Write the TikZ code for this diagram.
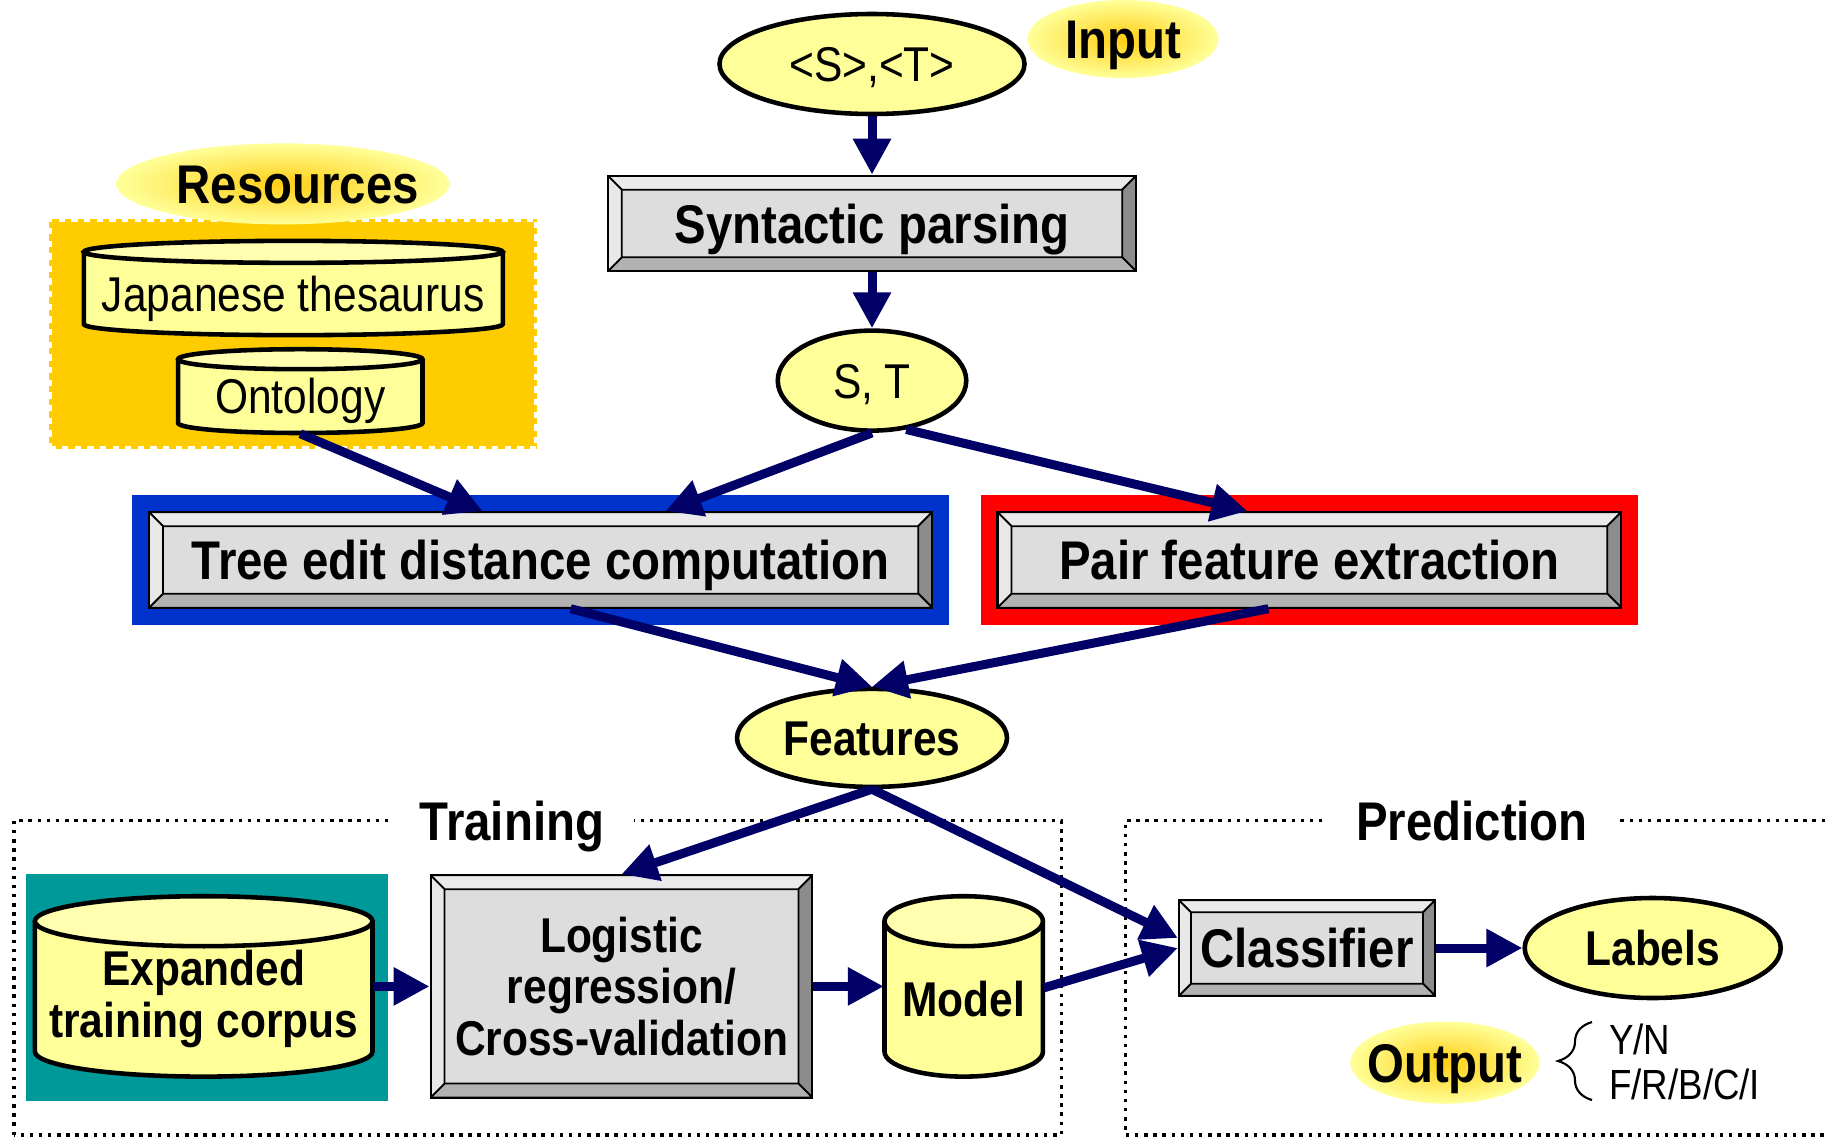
\documentclass[tikz,border=0pt]{standalone}
\usepackage{fontspec}
\setmainfont{Liberation Sans}[FakeStretch=0.87]
\usetikzlibrary{shapes.geometric,arrows.meta,decorations.pathreplacing}

\definecolor{navy}{RGB}{0,0,102}
\definecolor{paleyel}{RGB}{255,255,153}
\definecolor{drumtop}{RGB}{255,255,175}
\definecolor{resgold}{RGB}{255,204,0}
\definecolor{glowcore}{RGB}{255,206,20}
\definecolor{tblue}{RGB}{0,51,204}
\definecolor{tteal}{RGB}{0,153,153}
\definecolor{facegrey}{RGB}{221,221,221}
\definecolor{bevtop}{RGB}{234,234,234}
\definecolor{bevleft}{RGB}{232,232,232}
\definecolor{bevright}{RGB}{140,140,140}
\definecolor{bevbottom}{RGB}{178,178,178}

\newcommand\bigbf{\fontsize{15.5}{16}\selectfont\bfseries}
\newcommand\midbf{\fontsize{13.9}{14.6}\selectfont\bfseries}
\newcommand\midrm{\fontsize{13.9}{15}\selectfont}
\newcommand\smallrm{\fontsize{12}{12.8}\selectfont}

\newcommand\bevels[1]{%
  \path (path picture bounding box.north west) coordinate (o1)
        (path picture bounding box.north east) coordinate (o2)
        (path picture bounding box.south east) coordinate (o3)
        (path picture bounding box.south west) coordinate (o4);
  \path ([shift={(#1,-#1)}]o1) coordinate (i1)
        ([shift={(-#1,-#1)}]o2) coordinate (i2)
        ([shift={(-#1,#1)}]o3) coordinate (i3)
        ([shift={(#1,#1)}]o4) coordinate (i4);
  \filldraw[fill=bevtop, line width=0.5pt] (o1) -- (o2) -- (i2) -- (i1) -- cycle;
  \filldraw[fill=bevright, line width=0.5pt] (o2) -- (o3) -- (i3) -- (i2) -- cycle;
  \filldraw[fill=bevbottom, line width=0.5pt] (o3) -- (o4) -- (i4) -- (i3) -- cycle;
  \filldraw[fill=bevleft, line width=0.5pt] (o4) -- (o1) -- (i1) -- (i4) -- cycle;
}

\newcommand\drum[8]{%
  \fill[paleyel] (#2-#4,#3+#5-#6) -- (#2-#4,#3-#5+#6)
    arc[start angle=180, end angle=360, x radius=#4, y radius=#6]
    -- (#2+#4,#3+#5-#6)
    arc[start angle=0, end angle=180, x radius=#4, y radius=#6] -- cycle;
  \draw[line width=1.3pt] (#2-#4,#3+#5-#6) -- (#2-#4,#3-#5+#6)
    arc[start angle=180, end angle=360, x radius=#4, y radius=#6]
    -- (#2+#4,#3+#5-#6);
  \draw[line width=1.3pt, fill=drumtop] (#2,#3+#5-#6) ellipse[x radius=#4, y radius=#6];
  \node[inner sep=0pt, align=center, minimum width={2*#4cm}, minimum height={2*#5cm-#6cm}, #7] (#1) at (#2,#3-#6/2) {#8};
}

\begin{document}
\begin{tikzpicture}[
    flow/.style={draw=navy, line width=0.09cm, -{Triangle[width=0.36cm,length=0.36cm]}},
    bigtext/.style={font=\bigbf, text height=11.1pt, text depth=0pt},
    midtext/.style={font=\midbf, text height=10pt, text depth=0pt},
    rmtext/.style={font=\midrm, text height=10pt, text depth=0pt},
    bubble/.style={ellipse, draw=black, line width=1.3pt, fill=paleyel, inner sep=0pt},
    glow/.style={ellipse, inner color=glowcore, outer color=paleyel, inner sep=0pt, inner xsep=-0.3cm, bigtext},
    button/.style={rectangle, draw=black, line width=0.6pt, fill=facegrey, inner sep=0pt, path picture={\bevels{#1}}},
    button/.default=0.14cm,
    framed/.style={preaction={draw=#1, line width=0.34cm}},
    frame/.style={line width=1pt, dash pattern=on 1pt off 1.6pt},
    framelabel/.style={fill=white, inner xsep=0.3cm, inner ysep=1pt, bigtext}
  ]
  \useasboundingbox (0,0) rectangle (18.25,11.39);

  \draw[frame] (0.14,0.04) rectangle (10.615,3.185);
  \draw[frame] (18.25,3.185) -- (11.255,3.185) -- (11.255,0.04) -- (18.25,0.04);
  \node[framelabel] (train) at (5.12, 3.185) {Training};
  \node[framelabel] (pred) at (14.72, 3.185) {Prediction};

  \fill[resgold] (0.489,6.897) rectangle (5.366,9.202);
  \draw[white, line width=1.6pt, dash pattern=on 1.8pt off 1.8pt] (0.489,6.897) rectangle (5.366,9.202);
  \fill[tteal] (0.256,0.38) rectangle (3.876,2.649);

  \node[glow, minimum width=3.33cm, minimum height=0.81cm] (res) at (2.828, 9.551) {\hspace*{0.3cm}Resources};
  \node[glow, minimum width=1.91cm, minimum height=0.78cm] (inlab) at (11.23, 11.0) {Input};
  \node[glow, minimum width=1.89cm, minimum height=0.82cm] (outlab) at (14.45, 0.764) {Output};

  \drum{thes}{2.933}{8.51}{2.095}{0.4715}{0.11}{rmtext}{Japanese thesaurus}
  \drum{onto}{3.003}{7.479}{1.222}{0.419}{0.10}{rmtext}{Ontology}
  \drum{corpus}{2.037}{1.526}{1.688}{0.902}{0.25}{font=\midbf}{Expanded\\training corpus}
  \drum{model}{9.637}{1.526}{0.792}{0.902}{0.25}{midtext}{Model}

  \node[bubble, minimum width=3.05cm, minimum height=1.0cm, rmtext] (in) at (8.72, 10.75) {<S>,<T>};
  \node[button, minimum width=5.284cm, minimum height=0.955cm, bigtext] (parse) at (8.72, 9.155) {Syntactic parsing};
  \node[bubble, minimum width=1.885cm, minimum height=1.0cm, rmtext] (st) at (8.72, 7.584) {S, T};
  \node[button, framed=tblue, minimum width=7.833cm, minimum height=0.955cm, bigtext] (tree) at (5.406, 5.791) {Tree edit distance computation};
  \node[button, framed=red, minimum width=6.238cm, minimum height=0.955cm, bigtext] (pair) at (13.094, 5.791) {Pair feature extraction};
  \node[bubble, minimum width=2.70cm, minimum height=0.98cm, midtext] (feat) at (8.72, 4.011) {Features};
  \node[button, minimum width=3.818cm, minimum height=2.223cm, font=\midbf, align=center] (logi) at (6.215, 1.526) {Logistic\\regression/\\Cross-validation};
  \node[button=0.12cm, minimum width=2.561cm, minimum height=0.954cm, bigtext] (cls) at (13.07, 1.91) {Classifier};
  \node[bubble, minimum width=2.56cm, minimum height=1.0cm, midtext] (lab) at (16.527, 1.91) {Labels};

  \draw[line width=0.6pt, decorate, decoration={brace, amplitude=0.34cm}] (15.92,0.39) -- (15.92,1.17);
  \node[anchor=west, align=left, inner sep=0pt, font=\smallrm] (codes) at (16.085, 0.77) {Y/N\\F/R/B/C/I};

  \draw[flow] (in) -- (parse);
  \draw[flow] (parse) -- (st);
  \draw[flow] (onto.south) -- ([xshift=-0.58cm]tree.north);
  \draw[flow] (st.south) -- ([xshift=1.25cm]tree.north);
  \draw[flow] (st.-55) -- ([xshift=-0.62cm]pair.north);
  \draw[flow] ([xshift=0.30cm]tree.south) -- (feat.north);
  \draw[flow] ([xshift=-0.41cm]pair.south) -- (feat.north);
  \draw[flow] (feat.south) -- (logi.north);
  \draw[flow] (feat.south) -- ([yshift=0.1cm]cls.west);
  \draw[flow] (corpus.east |- logi) -- (logi);
  \draw[flow] (logi) -- (logi -| model.west);
  \draw[flow] ([yshift=0.11cm]model.east) -- (cls.west);
  \draw[flow] (cls) -- (lab);
\end{tikzpicture}
\end{document}
